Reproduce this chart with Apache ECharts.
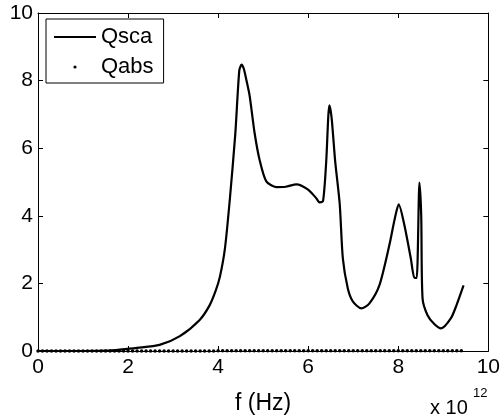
<!DOCTYPE html>
<html>
<head>
<meta charset="utf-8">
<script src="https://cdn.jsdelivr.net/npm/echarts@6/dist/echarts.min.js"></script>
<style>
  html, body { margin: 0; padding: 0; background: #fff; }
  #chart { width: 503px; height: 420px; }
</style>
</head>
<body>
<div id="chart"></div>
<script>
// frequency in units of 1e12 Hz
const fSca = [0, 0.5, 1.0, 1.5, 1.82, 2.2, 2.7, 3.15, 3.59, 3.81, 3.95, 4.04, 4.15, 4.26, 4.38, 4.47, 4.52, 4.57,
  4.63, 4.70, 4.81, 4.92, 5.07, 5.29, 5.50, 5.74, 5.99, 6.18, 6.25, 6.33, 6.40, 6.47, 6.52, 6.60, 6.70,
  6.77, 6.88, 6.99, 7.18, 7.36, 7.58, 7.80, 7.92, 8.01, 8.14, 8.28, 8.36, 8.41, 8.47, 8.51, 8.54,
  8.65, 8.80, 8.95, 9.17, 9.30, 9.45];
const qsca = [0, 0, 0, 0.01, 0.04, 0.09, 0.18, 0.44, 0.92, 1.35, 1.8, 2.2, 3.02, 4.49, 6.4, 8.3, 8.47, 8.35,
  8.0, 7.55, 6.45, 5.66, 5.02, 4.85, 4.86, 4.93, 4.78, 4.52, 4.40, 4.44, 5.6, 7.27, 6.9, 5.6, 4.35,
  2.73, 1.85, 1.47, 1.26, 1.41, 1.94, 3.12, 3.9, 4.34, 3.70, 2.73, 2.16, 2.16, 4.98, 4.0, 1.55,
  1.06, 0.80, 0.67, 0.97, 1.38, 1.94];

const fAbs = [0, 0.1, 0.2, 0.3, 0.4, 0.5, 0.6, 0.7, 0.8, 0.9, 1.0, 1.1, 1.2, 1.3, 1.4, 1.5, 1.6, 1.7, 1.8, 1.9,
  2.0, 2.1, 2.2, 2.3, 2.4, 2.5, 2.6, 2.7, 2.8, 2.9, 3.0, 3.1, 3.2, 3.3, 3.4, 3.5, 3.6, 3.7, 3.8, 3.9,
  4.0, 4.1, 4.2, 4.3, 4.4, 4.5, 4.6, 4.7, 4.8, 4.9, 5.0, 5.1, 5.2, 5.3, 5.4, 5.5, 5.6, 5.7, 5.8, 5.9,
  6.0, 6.1, 6.2, 6.3, 6.4, 6.5, 6.6, 6.7, 6.8, 6.9, 7.0, 7.1, 7.2, 7.3, 7.4, 7.5, 7.6, 7.7, 7.8, 7.9,
  8.0, 8.1, 8.2, 8.3, 8.4, 8.5, 8.6, 8.7, 8.8, 8.9, 9.0, 9.1, 9.2, 9.3, 9.4];
const qabs = [0, 0, 0, 0, 0, 0, 0, 0, 0, 0, 0, 0, 0, 0, 0, 0, 0, 0, 0, 0,
  0, 0, 0, 0, 0, 0, 0, 0, 0, 0, 0, 0, 0, 0, 0, 0, 0, 0, 0, 0,
  0.01, 0.01, 0.01, 0.01, 0.01, 0.01, 0.01, 0.01, 0.01, 0.01, 0.01, 0.01, 0.01, 0.01, 0.01, 0.01, 0.01, 0.01, 0.01, 0.01,
  0.01, 0.01, 0.01, 0.01, 0.01, 0.01, 0.01, 0.01, 0.01, 0.01, 0.01, 0.01, 0.01, 0.01, 0.01, 0.01, 0.01, 0.01, 0.01, 0.01,
  0.01, 0.01, 0.01, 0.01, 0.01, 0.01, 0.01, 0.01, 0.01, 0.01, 0.01, 0.01, 0.01, 0.01, 0.01];

const tickLabels = ['0', '2', '4', '6', '8', '10'];

const font = 'Liberation Sans, Arial, sans-serif';

const axisBase = {
  type: 'value',
  min: 0,
  max: 10,
  interval: 2,
  axisLine: { show: true, onZero: false, lineStyle: { color: '#000', width: 1 } },
  axisTick: { show: true, inside: true, length: 5, lineStyle: { color: '#000' } },
  splitLine: { show: false },
};

const labelStyle = {
  color: '#000',
  fontSize: 21,
  fontFamily: font,
  formatter: (v) => tickLabels[Math.round(v / 2)],
};

const chart = echarts.init(document.getElementById('chart'), null, { renderer: 'canvas' });

chart.setOption({
  animation: false,
  backgroundColor: '#fff',
  grid: { left: 38, top: 13, width: 451, height: 340 },
  xAxis: [
    Object.assign({}, axisBase, {
      position: 'bottom',
      axisLabel: Object.assign({}, labelStyle, { margin: 6 }),
      name: 'f (Hz)',
      nameLocation: 'middle',
      nameGap: 41,
      nameTextStyle: { color: '#000', fontSize: 23, fontFamily: font },
    }),
    Object.assign({}, axisBase, { position: 'top', axisLabel: { show: false } }),
  ],
  yAxis: [
    Object.assign({}, axisBase, {
      position: 'left',
      axisLabel: Object.assign({}, labelStyle, { margin: 5 }),
    }),
    Object.assign({}, axisBase, { position: 'right', axisLabel: { show: false } }),
  ],
  legend: {
    orient: 'vertical',
    left: 46,
    top: 19,
    padding: [7, 10, 5, 7],
    itemGap: 8,
    itemWidth: 42,
    itemHeight: 4,
    backgroundColor: '#fff',
    borderColor: '#000',
    borderWidth: 1,
    borderRadius: 0,
    textStyle: { color: '#000', fontSize: 22, fontFamily: font },
    data: [
      { name: 'Qsca', itemStyle: { opacity: 0 } },
      { name: 'Qabs' },
    ],
  },
  graphic: [
    {
      type: 'text',
      left: 430,
      top: 398,
      style: { text: 'x 10', fill: '#000', font: '20px ' + font },
    },
    {
      type: 'text',
      left: 473,
      top: 387,
      style: { text: '12', fill: '#000', font: '13px ' + font },
    },
  ],
  series: [
    {
      name: 'Qsca',
      type: 'line',
      symbol: 'none',
      smooth: 0.25,
      lineStyle: { color: '#000', width: 2.2 },
      itemStyle: { color: '#000' },
      data: fSca.map((f, i) => [f, qsca[i]]),
      z: 3,
    },
    {
      name: 'Qabs',
      type: 'line',
      symbol: 'circle',
      symbolSize: 3.5,
      showSymbol: true,
      showAllSymbol: true,
      lineStyle: { opacity: 0, width: 0 },
      itemStyle: { color: '#000' },
      data: fAbs.map((f, i) => [f, qabs[i]]),
      z: 4,
    },
  ],
});
</script>
</body>
</html>
